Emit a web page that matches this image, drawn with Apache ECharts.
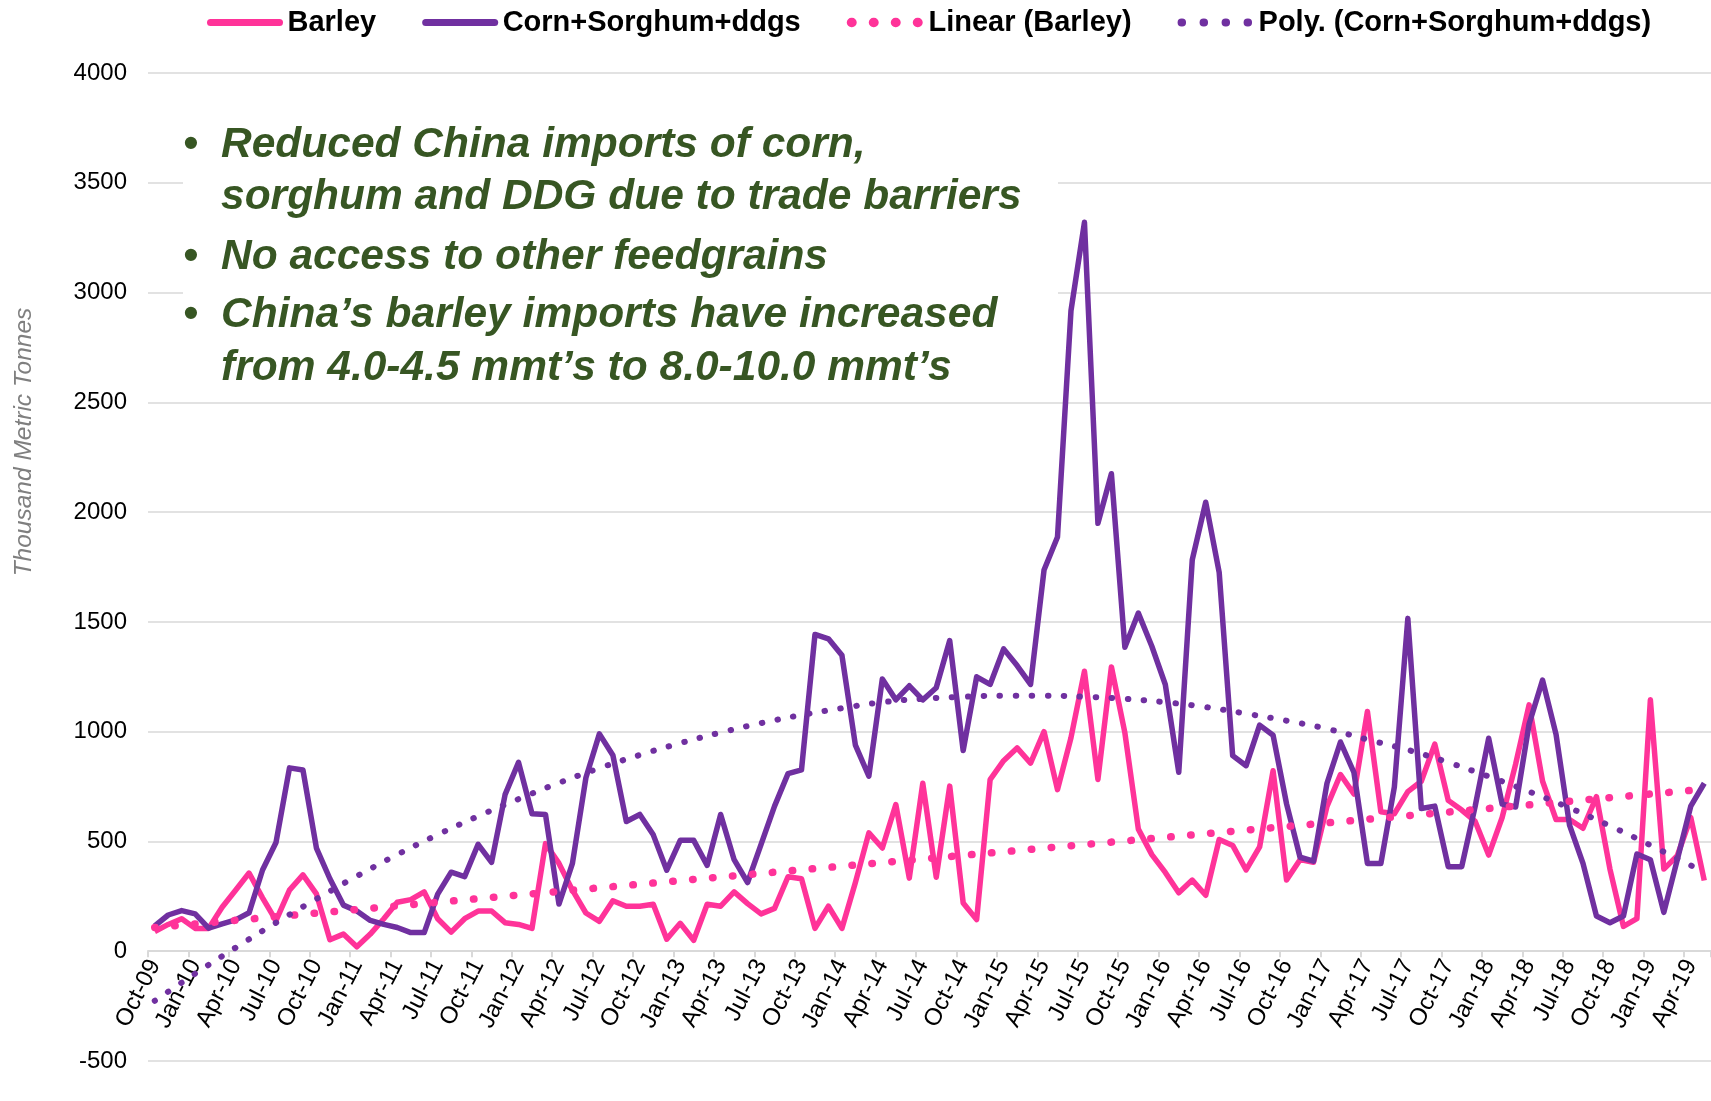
<!DOCTYPE html>
<html>
  <head>
    <meta charset="utf-8" />
    <title>China feedgrain imports</title>
    <script src="https://cdn.jsdelivr.net/npm/echarts@6/dist/echarts.min.js"></script>
    <style>
      html, body { margin: 0; padding: 0; background: #fff; }
    </style>
  </head>
  <body>
    <div id="main" style="width: 1711px;height:1101px;"></div>
    <script type="text/javascript">
// monthly imports, thousand metric tonnes, Oct-09 .. May-19
var barley = [
  90, 122, 148, 104, 104, 200, 278, 356, 243, 139, 278, 348,
  261, 52, 78, 20, 78, 148, 223, 235, 270, 148, 87, 148,
  183, 183, 130, 122, 104, 490, 400, 278, 174, 136, 230, 205,
  205, 214, 55, 127, 50, 214, 205, 270, 217, 170, 195, 339,
  330, 104, 205, 104, 313, 539, 470, 668, 333, 765, 337, 752,
  220, 144, 782, 868, 926, 857, 1000, 736, 972, 1275, 782, 1295,
  995, 556, 440, 359, 266, 324, 255, 509, 482, 370, 475, 822,
  324, 417, 405, 660, 805, 716, 1092, 635, 626, 727, 774, 943,
  687, 643, 591, 438, 609, 852, 1122, 774, 600, 600, 560, 704,
  374, 113, 148, 1145, 374, 435, 609, 322
];
var corn = [
  115, 165, 185, 170, 105, 125, 143, 175, 370, 495, 835, 825,
  470, 330, 210, 183, 140, 122, 108, 85, 85, 260, 360, 340,
  487, 405, 713, 860, 626, 623, 215, 400, 790, 990, 893, 591,
  623, 530, 369, 505, 505, 391, 623, 417, 313, 487, 661, 809,
  826, 1443, 1423, 1348, 939, 797, 1240, 1145, 1209, 1145, 1200, 1415,
  914, 1250, 1215, 1377, 1301, 1215, 1736, 1887, 2917, 3320, 1949, 2175,
  1384, 1540, 1389, 1215, 815, 1782, 2045, 1725, 891, 845, 1030, 984,
  671, 428, 410, 765, 953, 814, 400, 400, 748, 1516, 650, 661,
  385, 385, 661, 970, 670, 657, 1035, 1235, 988, 574, 400, 160,
  130, 160, 443, 417, 177, 417, 661, 765
];
// trendlines
var barleyTrendEnds = [108, 738];            // first and last month
var cornTrendQuarterly = [                  // every 3rd month from Oct-09, then May-19
  -226, -102, 16, 130, 238, 342, 440, 531, 615, 693,
  767, 834, 894, 948, 996, 1039, 1076, 1107, 1134, 1150,
  1159, 1164, 1164, 1159, 1150, 1134, 1112, 1082, 1050, 1013,
  964, 917, 860, 796, 727, 653, 571, 483, 391, 362
];
var monthNames = ['Jan','Feb','Mar','Apr','May','Jun','Jul','Aug','Sep','Oct','Nov','Dec'];
var yTicks = { min: -500, max: 4000, step: 500 };
var notes = [
  'Reduced China imports of corn,',
  'sorghum and DDG due to trade barriers',
  'No access to other feedgrains',
  'China\u2019s barley imports have increased',
  'from 4.0-4.5 mmt\u2019s to 8.0-10.0 mmt\u2019s'
];
var bulletLines = [0, 2, 3];

var months = [];
for (var k = 0; k < barley.length; k++) {
  var m = (9 + k) % 12;
  var yr = 9 + Math.floor((9 + k) / 12);
  months.push(monthNames[m] + '-' + (yr < 10 ? '0' + yr : '' + yr));
}
var last = months.length - 1;

var linearTrend = months.map(function (d, i) {
  if (i === 0) return barleyTrendEnds[0];
  if (i === last) return barleyTrendEnds[1];
  return null;
});
var polyTrend = months.map(function (d, i) {
  if (i % 3 === 0) return cornTrendQuarterly[i / 3];
  if (i === last) return cornTrendQuarterly[cornTrendQuarterly.length - 1];
  return null;
});

var PINK = '#FF3399';
var PURPLE = '#7030A0';
var GREEN = '#375623';
var FONT = '"Liberation Sans", Arial, sans-serif';

// plot box: y axis runs -500..4000, x axis is lifted onto the zero line
var gridTop = 73, gridBottom = 40, plotH = 1101 - gridTop - gridBottom;
var zeroShift = plotH * (0 - yTicks.min) / (yTicks.max - yTicks.min);

// note box graphics
var noteBaselines = [160, 212, 272, 330, 383];
var noMarker = { color: 'rgba(0,0,0,0)', borderWidth: 0 };
var graphics = [
  {
    type: 'rect', z: 1,
    shape: { x: 183, y: 96, width: 875, height: 298 },
    style: { fill: '#fff' }
  },
  {
    type: 'text', z: 5, x: 24, y: 442, rotation: Math.PI / 2,
    style: {
      text: 'Thousand Metric Tonnes', fill: '#7F7F7F',
      fontFamily: FONT, fontSize: 24.5, fontStyle: 'italic',
      align: 'center', verticalAlign: 'middle'
    }
  }
];
notes.forEach(function (line, i) {
  graphics.push({
    type: 'text', z: 5, x: 221, y: noteBaselines[i] - 14.7,
    style: {
      text: line, fill: GREEN, fontFamily: FONT, fontSize: 42.5,
      fontWeight: 'bold', fontStyle: 'italic',
      align: 'left', verticalAlign: 'middle'
    }
  });
});
bulletLines.forEach(function (i) {
  graphics.push({
    type: 'text', z: 5, x: 191, y: noteBaselines[i] - 14.7,
    style: {
      text: '\u2022', fill: GREEN, fontFamily: FONT, fontSize: 42.5,
      fontWeight: 'bold', align: 'center', verticalAlign: 'middle'
    }
  });
});

var myChart = echarts.init(document.getElementById('main'));
myChart.setOption({
  animation: false,
  backgroundColor: '#fff',
  grid: { left: 148, right: -6, top: gridTop, bottom: gridBottom, containLabel: false },
  legend: {
    left: 207, top: 8, padding: 0,
    itemWidth: 69, itemHeight: 20, itemGap: 46,
    textStyle: { fontFamily: FONT, fontSize: 29, fontWeight: 'bold', color: '#000', padding: [0, 0, 0, 3] },
    data: [
      { name: 'Barley', itemStyle: noMarker, lineStyle: { width: 7, cap: 'round', color: PINK } },
      { name: 'Corn+Sorghum+ddgs', itemStyle: noMarker, lineStyle: { width: 7, cap: 'round', color: PURPLE } },
      { name: 'Linear (Barley)', itemStyle: noMarker, lineStyle: { width: 9.5, cap: 'round', type: [0.5, 21.5], color: PINK } },
      { name: 'Poly. (Corn+Sorghum+ddgs)', itemStyle: noMarker, lineStyle: { width: 8, cap: 'round', type: [0.5, 21.5], color: PURPLE } }
    ]
  },
  graphic: graphics,
  xAxis: {
    type: 'category',
    data: months,
    boundaryGap: true,
    position: 'bottom',
    offset: -zeroShift,
    axisLine: { onZero: false, lineStyle: { color: '#D9D9D9', width: 2 } },
    axisTick: { show: true, interval: 2, length: 6, lineStyle: { color: '#D9D9D9', width: 2 } },
    axisLabel: { interval: 2, rotate: 63, margin: 10, fontFamily: FONT, fontSize: 24, color: '#000' },
    splitLine: { show: false }
  },
  yAxis: {
    type: 'value',
    min: yTicks.min, max: yTicks.max, interval: yTicks.step,
    axisLine: { show: false },
    axisTick: { show: false },
    axisLabel: {
      margin: 21, fontFamily: FONT, fontSize: 24, color: '#000',
      formatter: function (v) { return String(v); }
    },
    splitLine: { lineStyle: { color: '#D9D9D9', width: 1.5 } }
  },
  series: [
    {
      name: 'Barley', type: 'line', data: barley,
      symbol: 'none', color: PINK,
      lineStyle: { width: 5.5, color: PINK, join: 'round' }
    },
    {
      name: 'Corn+Sorghum+ddgs', type: 'line', data: corn,
      symbol: 'none', color: PURPLE,
      lineStyle: { width: 5.5, color: PURPLE, join: 'round' }
    },
    {
      name: 'Linear (Barley)', type: 'line', data: linearTrend,
      symbol: 'none', connectNulls: true, color: PINK,
      lineStyle: { width: 7.5, color: PINK, type: [0.5, 19.5], cap: 'round' }
    },
    {
      name: 'Poly. (Corn+Sorghum+ddgs)', type: 'line', data: polyTrend,
      symbol: 'none', connectNulls: true, smooth: 0.4, color: PURPLE,
      lineStyle: { width: 6, color: PURPLE, type: [0.5, 15.5], cap: 'round' }
    }
  ]
});
    </script>
  </body>
</html>
